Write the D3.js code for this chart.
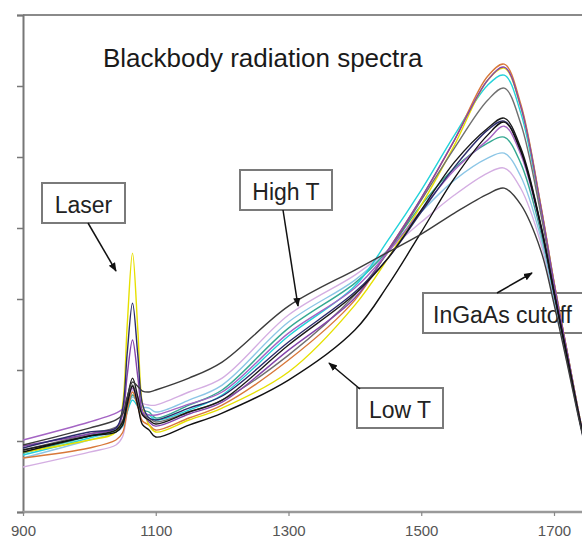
<!DOCTYPE html>
<html><head><meta charset="utf-8">
<script src="https://cdn.jsdelivr.net/npm/d3@7"></script>
<style>body{margin:0;background:#fff} svg{display:block} text{font-family:"Liberation Sans",Arial,sans-serif}</style>
</head><body><svg id="c" width="582" height="540"></svg>
<script>
// Wavelength grid (nm)
const wavelengths = [900, 1000, 1040, 1050, 1057, 1065, 1073, 1080, 1090, 1100, 1150, 1200, 1300, 1400, 1450, 1500, 1550, 1600, 1625, 1650, 1680, 1700, 1720, 1745, 1770];
const xTicks = [900, 1100, 1300, 1500, 1700];
const yTicks = [0, 500, 1000, 1500, 2000, 2500, 3000, 3500];

// Spectra (arbitrary intensity units)
const sLavender  = [317, 422, 472, 530, 704, 859, 811, 766, 753, 753, 845, 943, 1387, 1668, 1844, 2042, 2232, 2387, 2422, 2278, 1896, 1489, 1054, 507, 84];
const sLightBlue = [380, 507, 563, 600, 711, 810, 774, 741, 732, 704, 788, 894, 1338, 1633, 1844, 2112, 2337, 2492, 2527, 2363, 1935, 1508, 1064, 510, 84];
const sTeal      = [415, 535, 591, 627, 732, 824, 770, 718, 704, 662, 753, 859, 1295, 1612, 1844, 2161, 2422, 2598, 2640, 2455, 1975, 1528, 1076, 513, 84];
const sCyan      = [401, 521, 577, 609, 704, 788, 741, 696, 683, 648, 718, 824, 1239, 1591, 1915, 2267, 2654, 3006, 3076, 2809, 2135, 1607, 1119, 526, 84];
const sOrange    = [380, 451, 507, 558, 710, 845, 741, 641, 612, 577, 662, 753, 1070, 1492, 1844, 2211, 2619, 3069, 3154, 2872, 2164, 1621, 1126, 528, 84];
const sYellow    = [422, 507, 563, 753, 1316, 1823, 1281, 760, 612, 563, 648, 732, 986, 1457, 1788, 2161, 2584, 3041, 3126, 2851, 2154, 1616, 1124, 528, 84];
const sGrey      = [436, 549, 598, 643, 776, 894, 788, 690, 662, 634, 704, 788, 1105, 1528, 1830, 2196, 2563, 2900, 2985, 2734, 2102, 1590, 1110, 523, 84];
const sPurple    = [465, 549, 591, 683, 964, 1211, 950, 704, 634, 605, 690, 774, 1140, 1507, 1844, 2211, 2619, 3041, 3133, 2854, 2156, 1616, 1125, 528, 84];
const sViolet    = [507, 634, 697, 725, 803, 873, 788, 705, 683, 683, 760, 845, 1260, 1577, 1830, 2126, 2408, 2619, 2717, 2518, 2004, 1542, 1084, 515, 84];
const sNavy      = [451, 563, 591, 725, 1119, 1471, 1105, 760, 662, 648, 732, 817, 1197, 1549, 1788, 2112, 2429, 2689, 2753, 2548, 2017, 1549, 1087, 516, 84];
const sBlack     = [436, 535, 577, 634, 796, 943, 810, 683, 648, 620, 704, 788, 1176, 1535, 1788, 2126, 2464, 2703, 2774, 2563, 2025, 1552, 1089, 517, 84];
const sLowT      = [422, 535, 563, 612, 757, 887, 748, 615, 577, 528, 612, 697, 929, 1281, 1598, 1971, 2351, 2654, 2746, 2540, 2014, 1547, 1086, 516, 84];
const sHighT     = [472, 591, 648, 690, 810, 915, 884, 852, 845, 859, 943, 1056, 1450, 1704, 1830, 1957, 2105, 2239, 2281, 2164, 1844, 1464, 1040, 502, 84];

const seriesList   = [sLavender, sLightBlue, sTeal, sCyan, sOrange, sYellow, sGrey, sPurple, sViolet, sNavy, sBlack, sLowT, sHighT];
const seriesColors = ["#d4aee2", "#8cc6e6", "#34a892", "#22d2da", "#d8783a", "#e6e000", "#707070", "#8444aa", "#a464c4", "#2c2c6c", "#1a1a1a", "#111111", "#3c3c3c"];

const titleText = "Blackbody radiation spectra";
const notes = [
  {label: "Laser",  box: [42, 183, 83, 40],  tx: 83.5, ty: 213, anchor: "middle", arrow: [88, 223, 116, 271]},
  {label: "High T", box: [240, 170, 92, 40], tx: 286,  ty: 200, anchor: "middle", arrow: [283, 210, 298, 306]},
  {label: "Low T",  box: [357, 388, 86, 40], tx: 400,  ty: 418, anchor: "middle", arrow: [360, 389, 329, 363]},
  {label: "InGaAs cutoff", box: [423, 293, 200, 40], tx: 433, ty: 323, anchor: "start", arrow: [497, 293, 532, 273]}
];

const svg = d3.select("#c");
const W = 582, H = 540;
const x = d3.scaleLinear().domain([900, 1700]).range([23, 554]);
const y = d3.scaleLinear().domain([0, 3500]).range([512, 15]);

const defs = svg.append("defs");
defs.append("clipPath").attr("id", "plot")
  .append("rect").attr("x", x.range()[0]).attr("y", y.range()[1])
  .attr("width", W - x.range()[0]).attr("height", y.range()[0] - y.range()[1]);

const marker = defs.append("marker").attr("id", "ah")
  .attr("viewBox", "0 0 10 10").attr("refX", 9).attr("refY", 5)
  .attr("markerWidth", 9).attr("markerHeight", 9).attr("markerUnits", "userSpaceOnUse")
  .attr("orient", "auto");
marker.append("path").attr("d", "M0,1 L10,5 L0,9 z").attr("fill", "#111");

// top frame line
svg.append("line").attr("x1", x.range()[0]).attr("x2", W).attr("y1", y(3500)).attr("y2", y(3500))
  .attr("stroke", "#8a8a8a").attr("stroke-width", 2);

// y axis (no labels visible)
const yAxis = d3.axisLeft(y).tickValues(yTicks).tickSize(6).tickFormat("");
const gy = svg.append("g").attr("transform", `translate(${x.range()[0]},0)`).call(yAxis);
gy.select(".domain").attr("stroke", "#777").attr("stroke-width", 2);
gy.selectAll(".tick line").attr("stroke", "#777").attr("stroke-width", 1.5);

// x axis
const xAxis = d3.axisBottom(x).tickValues(xTicks).tickSize(4).tickPadding(9).tickFormat(d3.format("d"));
const gx = svg.append("g").attr("transform", `translate(0,${y(0)})`).call(xAxis);
gx.select(".domain").attr("d", `M${x.range()[0]},0H${W}`).attr("stroke", "#9a9a9a").attr("stroke-width", 2.5);
gx.selectAll(".tick line").attr("stroke", "#888").attr("stroke-width", 1.2);
gx.selectAll(".tick text").attr("font-size", 15).attr("fill", "#555")
  .attr("font-family", "'Liberation Sans', Arial, sans-serif");

// annotation boxes (under the curves)
const gN = svg.append("g");
notes.forEach(n => {
  gN.append("rect").attr("x", n.box[0]).attr("y", n.box[1]).attr("width", n.box[2]).attr("height", n.box[3])
    .attr("fill", "#fff").attr("stroke", "#7a7a7a").attr("stroke-width", 2);
  gN.append("text").attr("x", n.tx).attr("y", n.ty).attr("text-anchor", n.anchor)
    .attr("font-size", 23).attr("fill", "#222").text(n.label);
});

// spectra
const line = d3.line().x((d, i) => x(wavelengths[i])).y(d => y(d)).curve(d3.curveCatmullRom.alpha(0.5));
svg.append("g").attr("clip-path", "url(#plot)")
  .selectAll("path").data(seriesList).join("path")
  .attr("d", d => line(d)).attr("fill", "none")
  .attr("stroke", (d, i) => seriesColors[i]).attr("stroke-width", 1.4);

// arrows
notes.forEach(n => {
  svg.append("line").attr("x1", n.arrow[0]).attr("y1", n.arrow[1]).attr("x2", n.arrow[2]).attr("y2", n.arrow[3])
    .attr("stroke", "#111").attr("stroke-width", 1.5).attr("marker-end", "url(#ah)");
});

// title
svg.append("text").attr("x", 103).attr("y", 67).attr("font-size", 26).attr("fill", "#1a1a1a").text(titleText);
</script></body></html>
